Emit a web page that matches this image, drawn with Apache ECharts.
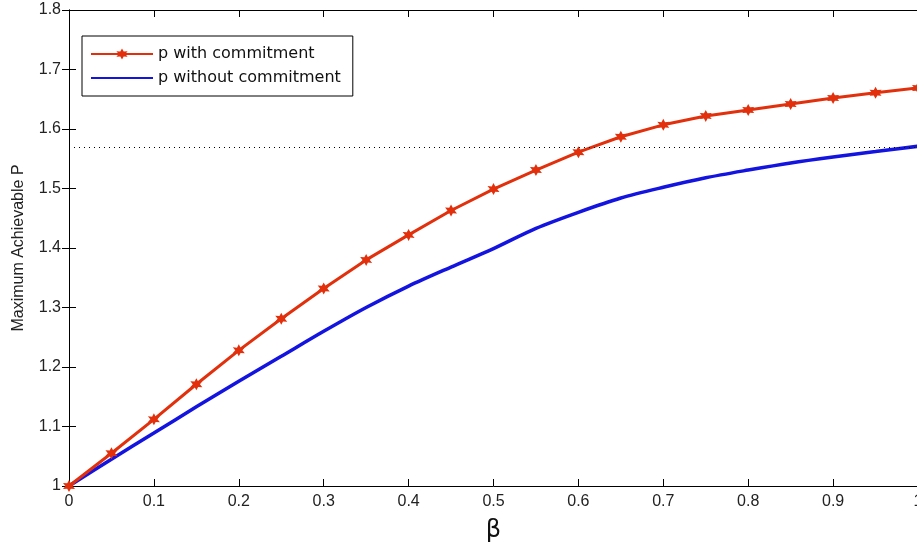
<!DOCTYPE html>
<html>
<head>
<meta charset="utf-8">
<script src="https://cdn.jsdelivr.net/npm/echarts@6/dist/echarts.min.js"></script>
<style>
  html, body { margin: 0; padding: 0; background: #fff; }
  #chart { width: 917px; height: 548px; }
</style>
</head>
<body>
<div id="chart"></div>
<script>
// beta steps shared by both curves
const betas = [0, 0.05, 0.1, 0.15, 0.2, 0.25, 0.3, 0.35, 0.4, 0.45, 0.5,
               0.55, 0.6, 0.65, 0.7, 0.75, 0.8, 0.85, 0.9, 0.95, 1];
const withCommit = [1.0, 1.055, 1.112, 1.171, 1.228, 1.281, 1.332, 1.380, 1.422, 1.463, 1.499,
                    1.531, 1.561, 1.587, 1.607, 1.622, 1.632, 1.642, 1.652, 1.661, 1.669];
const withoutCommit = [1.0, 1.045, 1.089, 1.133, 1.176, 1.218, 1.260, 1.300, 1.336, 1.368, 1.399,
                       1.433, 1.460, 1.484, 1.502, 1.518, 1.531, 1.543, 1.553, 1.562, 1.571];
const refLevel = 1.5708;   // dotted reference (pi/2)

const star = 'path://M0,-10L2.6,-4.5L8.7,-5L5.2,0L8.7,5L2.6,4.5L0,10L-2.6,4.5L-8.7,5L-5.2,0L-8.7,-5L-2.6,-4.5Z';
const fmt = v => String(Math.round(v * 10) / 10);

let chart = echarts.init(document.getElementById('chart'));
const axisLine = { show: true, lineStyle: { color: '#000', width: 1 } };
const tickIn = { show: true, inside: true, length: 7, lineStyle: { color: '#000' } };
const labelStyle = { color: '#222', fontSize: 16, fontFamily: 'Liberation Sans, Arial, sans-serif' };

const option = {
  animation: false,
  grid: { left: 69, top: 10, right: -1, bottom: 62, outerBoundsMode: 'none' },
  legend: {
    left: 82, top: 36,
    orient: 'vertical',
    itemWidth: 62, itemHeight: 14, itemGap: 8,
    padding: [10, 12, 10, 8],
    borderColor: '#000', borderWidth: 1,
    backgroundColor: '#fff',
    textStyle: { color: '#111', fontSize: 16, fontFamily: 'DejaVu Sans, sans-serif' },
    data: [
      { name: 'p with commitment' },
      { name: 'p without commitment', itemStyle: { opacity: 0 } }
    ]
  },
  xAxis: [
    {
      type: 'value', min: 0, max: 1, interval: 0.1,
      name: 'β', nameLocation: 'middle', nameGap: 33,
      nameTextStyle: { color: '#111', fontSize: 24, fontFamily: 'DejaVu Sans, sans-serif' },
      axisLine: axisLine, axisTick: tickIn, splitLine: { show: false },
      axisLabel: Object.assign({ margin: 8, formatter: fmt }, labelStyle)
    },
    {
      type: 'value', min: 0, max: 1, interval: 0.1, position: 'top',
      axisLine: axisLine, axisTick: tickIn, axisLabel: { show: false }, splitLine: { show: false }
    }
  ],
  yAxis: [
    {
      type: 'value', min: 1, max: 1.8, interval: 0.1,
      name: 'Maximum Achievable P', nameLocation: 'middle', nameGap: 42,
      nameTextStyle: { color: '#222', fontSize: 16, fontFamily: 'Liberation Sans, Arial, sans-serif' },
      axisLine: axisLine, axisTick: tickIn, splitLine: { show: false },
      axisLabel: Object.assign({ margin: 8, formatter: fmt }, labelStyle)
    },
    {
      type: 'value', min: 1, max: 1.8, interval: 0.1, position: 'right',
      axisLine: axisLine, axisTick: tickIn, axisLabel: { show: false }, splitLine: { show: false }
    }
  ],
  series: [
    {
      name: 'p without commitment',
      type: 'line',
      data: betas.map((b, i) => [b, withoutCommit[i]]),
      showSymbol: false,
      smooth: 0.3,
      lineStyle: { color: '#1414e0', width: 3.5 },
      itemStyle: { color: '#1414e0' },
      markLine: {
        silent: true, symbol: 'none', label: { show: false },
        lineStyle: { color: '#000', type: [1, 4], width: 1.2 },
        data: [{ yAxis: refLevel }]
      },
      z: 2
    },
    {
      name: 'p with commitment',
      type: 'line',
      data: betas.map((b, i) => [b, withCommit[i]]),
      symbol: star, symbolSize: 12,
      lineStyle: { color: '#e2300c', width: 3 },
      itemStyle: { color: '#e2300c' },
      z: 3
    }
  ]
};
chart.setOption(option);
</script>
</body>
</html>
